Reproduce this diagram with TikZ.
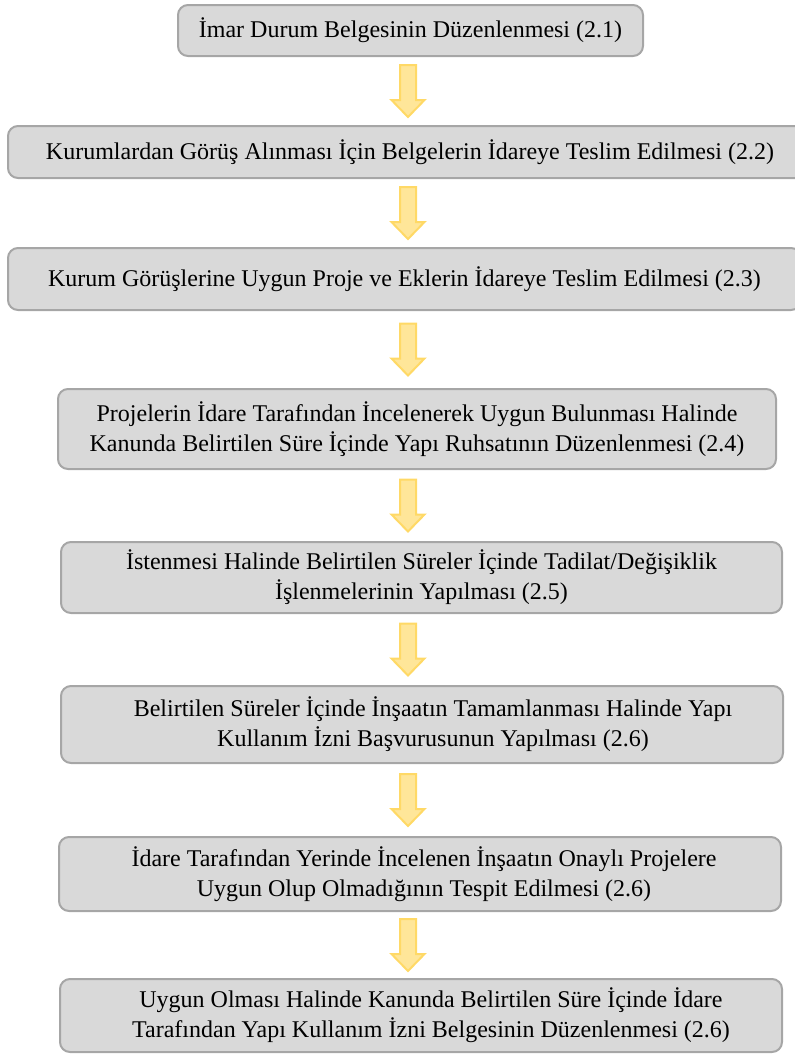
\documentclass[tikz,border=0pt]{standalone}
\usepackage{fontspec}
\setmainfont{Liberation Serif}
\usepackage{tikz}
\usetikzlibrary{calc}

\definecolor{boxfill}{HTML}{D9D9D9}
\definecolor{boxline}{HTML}{A6A6A6}
\definecolor{arrowfill}{HTML}{FFE699}
\definecolor{arrowline}{HTML}{FFD966}

\tikzset{
  stagebox/.style={draw=boxline, fill=boxfill, line width=1pt, rounded corners=5pt,
    inner sep=0pt, align=center, font=\fontsize{12}{15}\selectfont},
  yellowarrow/.style={draw=arrowline, fill=arrowfill, line width=1pt, line join=miter}
}

% block arrow pointing down, centred on #1
\newcommand{\blockdown}[1]{%
  \draw[yellowarrow] ($(#1)+(-8,-26)$) -- ($(#1)+(8,-26)$) -- ($(#1)+(8,9)$)
    -- ($(#1)+(16.5,9)$) -- ($(#1)+(0,26)$) -- ($(#1)+(-16.5,9)$)
    -- ($(#1)+(-8,9)$) -- cycle;}

\begin{document}
\begin{tikzpicture}[x=0.5pt, y=-0.5pt]
  \useasboundingbox (0,0) rectangle (795,1057);

  \node[stagebox, minimum width=232.5pt, minimum height=25.5pt] (b1) at (410.5,30.5)
    {İmar Durum Belgesinin Düzenlenmesi (2.1)};
  \node[stagebox, minimum width=402pt, minimum height=26pt] (b2) at (410,152)
    {Kurumlardan Görüş Alınması İçin Belgelerin İdareye Teslim Edilmesi (2.2)};
  \node[stagebox, minimum width=396.5pt, minimum height=31pt] (b3) at (404.5,279)
    {Kurum Görüşlerine Uygun Proje ve Eklerin İdareye Teslim Edilmesi (2.3)};
  \node[stagebox, minimum width=359pt, minimum height=40pt] (b4) at (417,429)
    {Projelerin İdare Tarafından İncelenerek Uygun Bulunması Halinde\\
     Kanunda Belirtilen Süre İçinde Yapı Ruhsatının Düzenlenmesi (2.4)};
  \node[stagebox, minimum width=360.5pt, minimum height=35.5pt] (b5) at (421.5,577.5)
    {İstenmesi Halinde Belirtilen Süreler İçinde Tadilat/Değişiklik\\
     İşlenmelerinin Yapılması (2.5)};
  \node[stagebox, minimum width=361pt, minimum height=38.5pt] (b6) at (422,724.5)
    {\hspace*{11pt}Belirtilen Süreler İçinde İnşaatın Tamamlanması Halinde Yapı\\
     \hspace*{11pt}Kullanım İzni Başvurusunun Yapılması (2.6)};
  \node[stagebox, minimum width=361pt, minimum height=37pt] (b7) at (420,874)
    {\hspace*{4pt}İdare Tarafından Yerinde İncelenen İnşaatın Onaylı Projelere\\
     \hspace*{4pt}Uygun Olup Olmadığının Tespit Edilmesi (2.6)};
  \node[stagebox, minimum width=361pt, minimum height=36.5pt] (b8) at (421,1015.5)
    {\hspace*{10pt}Uygun Olması Halinde Kanunda Belirtilen Süre İçinde İdare\\
     \hspace*{10pt}Tarafından Yapı Kullanım İzni Belgesinin Düzenlenmesi (2.6)};

  % arrows sit halfway between the boxes
  \coordinate (ax) at (408,0);
  \path (b1.south) -- (b2.north) coordinate[midway] (m1);
  \path (b2.south) -- (b3.north) coordinate[midway] (m2);
  \path (b3.south) -- (b4.north) coordinate[midway] (m3);
  \path (b4.south) -- (b5.north) coordinate[midway] (m4);
  \path (b5.south) -- (b6.north) coordinate[midway] (m5);
  \path (b6.south) -- (b7.north) coordinate[midway] (m6);
  \path (b7.south) -- (b8.north) coordinate[midway] (m7);
  \coordinate (a1) at (m1 -| ax);
  \coordinate (a2) at (m2 -| ax);
  \coordinate (a3) at (m3 -| ax);
  \coordinate (a4) at (m4 -| ax);
  \coordinate (a5) at (m5 -| ax);
  \coordinate (a6) at (m6 -| ax);
  \coordinate (a7) at (m7 -| ax);
  \blockdown{a1}
  \blockdown{a2}
  \blockdown{a3}
  \blockdown{a4}
  \blockdown{a5}
  \blockdown{a6}
  \blockdown{a7}
\end{tikzpicture}
\end{document}
